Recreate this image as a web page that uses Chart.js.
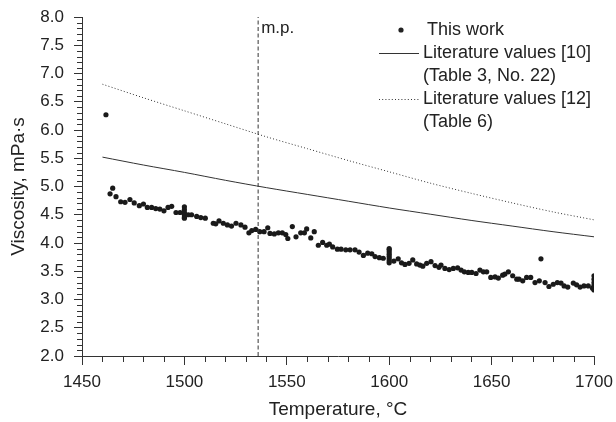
<!DOCTYPE html>
<html>
<head>
<meta charset="utf-8">
<title>Viscosity vs temperature</title>
<script src="https://cdn.jsdelivr.net/npm/chart.js@4.4.1/dist/chart.umd.min.js"></script>
<style>
  html, body { margin: 0; padding: 0; background: #fff; }
  #wrap { width: 616px; height: 422px; position: relative; }
</style>
</head>
<body>
<div id="wrap"><canvas id="viscChart"></canvas></div>
<script>
// === DATA ===
// measured points, "This work"
const workTemp = [
  1461.7, 1463.7, 1465.0, 1466.6, 1468.9, 1471.0, 1473.4, 1475.5, 1478.0, 1480.0,
  1481.9, 1484.0, 1486.0, 1488.0, 1490.0, 1492.0, 1493.8, 1495.9, 1497.9,
  1500, 1500, 1500, 1500, 1500, 1500,
  1501.9, 1503.5, 1506.0, 1508.0, 1510.2, 1514.1, 1515.3, 1516.9, 1519.0, 1521.0,
  1523.0, 1525.2, 1527.6, 1529.6, 1531.5, 1532.9, 1534.8, 1536.8, 1538.9, 1540.7,
  1541.8, 1543.9, 1545.9, 1547.8, 1549.5, 1550.5, 1552.7, 1554.5, 1556.8, 1558.6,
  1559.7, 1561.7, 1563.4, 1565.4, 1567.5, 1569.5, 1570.8, 1572.4, 1574.7, 1576.5,
  1578.8, 1580.9, 1583.3, 1585.3, 1587.4, 1589.5, 1591.5, 1593.1, 1595.2, 1597.1,
  1600, 1600, 1600, 1600, 1600, 1600, 1600, 1600,
  1602.3, 1604.4, 1606.0, 1607.7, 1609.7, 1611.5, 1613.4, 1615.0, 1616.4, 1618.3,
  1620.4, 1622.4, 1624.3, 1625.3, 1627.2, 1629.3, 1631.3, 1633.4, 1635.1, 1636.7,
  1638.6, 1640.3, 1642.4, 1644.3, 1646.0, 1647.6, 1649.6, 1651.7, 1653.3, 1655.4,
  1656.5, 1658.2, 1660.3, 1662.3, 1663.4, 1665.2, 1667.1, 1669.1, 1671.2, 1673.3,
  1674.1, 1676.1, 1678.0, 1680.1, 1682.1, 1683.9, 1685.4, 1687.2, 1689.9, 1691.5,
  1693.2, 1695.1, 1697.2, 1699.3,
  1700, 1700, 1700, 1700, 1700
];
const workVisc = [
  6.27, 4.87, 4.97, 4.82, 4.73, 4.72, 4.77, 4.71, 4.66, 4.69,
  4.63, 4.63, 4.61, 4.60, 4.57, 4.63, 4.65, 4.54, 4.54,
  4.64, 4.59, 4.54, 4.50, 4.46, 4.44,
  4.50, 4.50, 4.47, 4.45, 4.44, 4.35, 4.34, 4.39, 4.35, 4.32,
  4.30, 4.35, 4.32, 4.28, 4.18, 4.22, 4.24, 4.20, 4.20, 4.27,
  4.17, 4.16, 4.18, 4.18, 4.15, 4.08, 4.29, 4.11, 4.18, 4.18,
  4.25, 4.09, 4.20, 3.96, 4.01, 3.96, 3.98, 3.93, 3.89, 3.89,
  3.88, 3.88, 3.88, 3.84, 3.78, 3.82, 3.81, 3.76, 3.74, 3.73,
  3.90, 3.88, 3.84, 3.80, 3.76, 3.72, 3.68, 3.65,
  3.68, 3.72, 3.65, 3.62, 3.64, 3.70, 3.63, 3.61, 3.59, 3.64,
  3.67, 3.60, 3.57, 3.61, 3.55, 3.53, 3.55, 3.56, 3.52, 3.49,
  3.48, 3.48, 3.46, 3.52, 3.49, 3.49, 3.39, 3.40, 3.38, 3.43,
  3.45, 3.49, 3.42, 3.36, 3.36, 3.33, 3.39, 3.39, 3.30, 3.33,
  3.72, 3.30, 3.23, 3.27, 3.30, 3.29, 3.24, 3.22, 3.29, 3.26,
  3.22, 3.24, 3.24, 3.20,
  3.42, 3.36, 3.30, 3.25, 3.17
];

// literature curves
const litTemp = [1460, 1480, 1500, 1520, 1540, 1560, 1580, 1600, 1620, 1640, 1660, 1680, 1700];
const lit10Visc = [5.52, 5.38, 5.25, 5.11, 4.98, 4.86, 4.74, 4.62, 4.51, 4.40, 4.30, 4.20, 4.11];
const lit12Visc = [6.81, 6.57, 6.34, 6.11, 5.88, 5.67, 5.46, 5.26, 5.06, 4.88, 4.71, 4.55, 4.41];

// melting point marker
const meltingPoint = 1536;
const mpLabel = 'm.p.';

// axes
const xTitle = 'Temperature, °C';
const yTitle = 'Viscosity, mPa·s';
const xMin = 1450, xMax = 1700, xStep = 50, xMinorStep = 10;
const yMin = 2, yMax = 8, yStep = 0.5, yMinorStep = 0.1;

// legend text
const legendLabels = [
  ['This work'],
  ['Literature values [10]', '(Table 3, No. 22)'],
  ['Literature values [12]', '(Table 6)']
];

const FONT = '"Liberation Sans", Arial, Helvetica, sans-serif';
const INK = '#222';
const AXIS = '#333';

function toPoints(xs, ys) {
  return xs.map((x, i) => ({ x: x, y: ys[i] }));
}

// === PLUGIN: minor ticks, m.p. label, legend ===
const extrasPlugin = {
  id: 'extras',
  afterDraw(chart) {
    const ctx = chart.ctx;
    const xs = chart.scales.x;
    const ys = chart.scales.y;
    const area = chart.chartArea;

    ctx.save();
    ctx.strokeStyle = AXIS;
    ctx.lineWidth = 1;

    // minor ticks
    ctx.beginPath();
    for (let v = xMin; v <= xMax + 1e-6; v += xMinorStep) {
      if (Math.abs(v % xStep) < 1e-6) continue;
      const px = Math.round(xs.getPixelForValue(v)) + 0.5;
      ctx.moveTo(px, area.bottom);
      ctx.lineTo(px, area.bottom + 6);
    }
    for (let i = 0; i <= Math.round((yMax - yMin) / yMinorStep); i++) {
      if (i % 5 === 0) continue;
      const v = yMin + i * yMinorStep;
      const py = Math.round(ys.getPixelForValue(v)) + 0.5;
      ctx.moveTo(area.left - 5, py);
      ctx.lineTo(area.left, py);
    }
    ctx.stroke();

    // m.p. label
    ctx.fillStyle = INK;
    ctx.font = '17px ' + FONT;
    ctx.textBaseline = 'middle';
    ctx.textAlign = 'left';
    ctx.fillText(mpLabel, xs.getPixelForValue(meltingPoint) + 3, 28);

    // legend
    const textX = 423;
    const rowH = 23;
    let y = 30;
    ctx.font = '18px ' + FONT;

    // this work
    ctx.beginPath();
    ctx.arc(401, y, 2.6, 0, Math.PI * 2);
    ctx.fill();
    ctx.fillText(legendLabels[0][0], textX + 4, y);
    y += rowH;

    // lit [10]
    ctx.beginPath();
    ctx.setLineDash([]);
    ctx.moveTo(379, y + 0.5);
    ctx.lineTo(419, y + 0.5);
    ctx.stroke();
    legendLabels[1].forEach(t => { ctx.fillText(t, textX, y); y += rowH; });

    // lit [12]
    ctx.beginPath();
    ctx.setLineDash([1, 2.2]);
    ctx.moveTo(379, y + 0.5);
    ctx.lineTo(419, y + 0.5);
    ctx.stroke();
    ctx.setLineDash([]);
    legendLabels[2].forEach(t => { ctx.fillText(t, textX, y); y += rowH; });

    ctx.restore();
  }
};

// === CHART ===
const ctx = document.getElementById('viscChart').getContext('2d');
const viscChart = new Chart(ctx, {
  data: {
    datasets: [
      {
        type: 'line',
        label: 'm.p.',
        data: [{ x: meltingPoint, y: yMin }, { x: meltingPoint, y: yMax }],
        borderColor: AXIS,
        borderWidth: 1,
        borderDash: [4, 2.5],
        pointRadius: 0
      },
      {
        type: 'line',
        label: 'Literature values [10]',
        data: toPoints(litTemp, lit10Visc),
        borderColor: '#333',
        borderWidth: 1,
        pointRadius: 0,
        tension: 0.3
      },
      {
        type: 'line',
        label: 'Literature values [12]',
        data: toPoints(litTemp, lit12Visc),
        borderColor: '#333',
        borderWidth: 1,
        borderDash: [1, 2.2],
        pointRadius: 0,
        tension: 0.3
      },
      {
        type: 'scatter',
        label: 'This work',
        data: toPoints(workTemp, workVisc),
        backgroundColor: '#1a1a1a',
        borderWidth: 0,
        pointRadius: 2.6
      }
    ]
  },
  options: {
    responsive: true,
    maintainAspectRatio: false,
    animation: false,
    devicePixelRatio: 1,
    layout: { padding: { left: 0, top: 17, right: 22, bottom: 0 } },
    plugins: {
      legend: { display: false },
      tooltip: { enabled: false }
    },
    scales: {
      x: {
        type: 'linear',
        min: xMin,
        max: xMax,
        afterFit: s => { s.height = 66; s.paddingLeft = 0; s.paddingRight = 0; },
        grid: { drawOnChartArea: false, color: AXIS, tickLength: 9 },
        border: { color: AXIS, width: 1 },
        ticks: {
          stepSize: xStep,
          padding: 7,
          color: INK,
          font: { family: FONT, size: 17 },
          maxRotation: 0,
          callback: v => String(v)
        },
        title: {
          display: true,
          text: xTitle,
          color: INK,
          font: { family: FONT, size: 19 },
          padding: { top: 0, bottom: 1 }
        }
      },
      y: {
        type: 'linear',
        min: yMin,
        max: yMax,
        afterFit: s => { s.width = 82; s.paddingTop = 0; s.paddingBottom = 0; },
        grid: { drawOnChartArea: false, color: AXIS, tickLength: 8 },
        border: { color: AXIS, width: 1 },
        ticks: {
          stepSize: yStep,
          padding: 10,
          color: INK,
          font: { family: FONT, size: 17 },
          callback: v => v.toFixed(1)
        },
        title: {
          display: true,
          text: yTitle,
          color: INK,
          font: { family: FONT, size: 19 },
          padding: { top: 7, bottom: 0 }
        }
      }
    }
  },
  plugins: [extrasPlugin]
});
</script>
</body>
</html>
